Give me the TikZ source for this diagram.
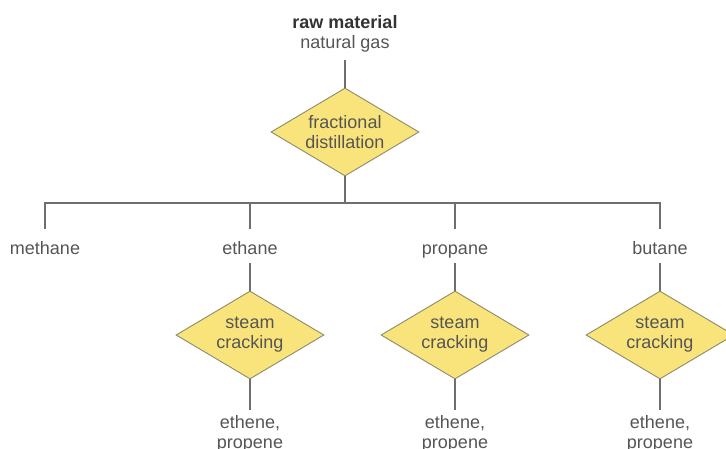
\documentclass[tikz,border=0pt]{standalone}
\usepackage{fontspec}
\setmainfont{Liberation Sans}
\usetikzlibrary{shapes.geometric}
\definecolor{txt}{HTML}{555555}
\definecolor{txtdark}{HTML}{333333}
\definecolor{ln}{HTML}{6E6E6E}
\definecolor{dfill}{HTML}{F9E47C}
\definecolor{dline}{HTML}{8C8A6A}
\begin{document}
\begin{tikzpicture}[x=1pt,y=-1pt,
  lbl/.style={font=\fontsize{18}{20}\selectfont, text=txt, align=center, inner sep=0pt},
  item/.style={lbl, text height=13pt, text depth=4pt, anchor=base},
  dia/.style={diamond, draw=dline, fill=dfill, line width=0.9pt, minimum width=148pt, minimum height=88pt, inner sep=0pt, aspect=1.68, lbl},
  conn/.style={draw=ln, line width=1.1pt}]
\useasboundingbox (0,0) rectangle (726,448);

\node[lbl, anchor=base, text=txtdark] (raw) at (345,28.5) {\textbf{raw material}};
\node[lbl, anchor=base] (gas) at (345,48) {natural gas};
\node[dia] (fd) at (345,132) {fractional\\distillation};
\coordinate (bus) at (345,203);

\node[item] (methane) at (45,254) {methane};
\node[item] (ethane) at (250,254) {ethane};
\node[item] (propane) at (455,254) {propane};
\node[item] (butane) at (660,254) {butane};

\node[dia] (sc1) at (250,335) {steam\\cracking};
\node[dia] (sc2) at (455,335) {steam\\cracking};
\node[dia] (sc3) at (660,335) {steam\\cracking};

\node[lbl, anchor=north] (p1) at (250,415) {ethene,\\propene};
\node[lbl, anchor=north] (p2) at (455,415) {ethene,\\propene};
\node[lbl, anchor=north] (p3) at (660,415) {ethene,\\propene};

\draw[conn, shorten <=8pt] (gas.south) -- (fd.north);
\draw[conn] (fd.south) -- (bus);
\draw[conn, shorten >=12pt] (bus) -| (methane.north);
\draw[conn, shorten >=12pt] (bus) -| (butane.north);
\draw[conn, shorten >=12pt] (ethane.north |- bus) -- (ethane.north);
\draw[conn, shorten >=12pt] (propane.north |- bus) -- (propane.north);

\draw[conn, shorten <=5pt] (ethane.south) -- (sc1.north);
\draw[conn, shorten <=5pt] (propane.south) -- (sc2.north);
\draw[conn, shorten <=5pt] (butane.south) -- (sc3.north);

\draw[conn, shorten >=5pt] (sc1.south) -- (p1.north);
\draw[conn, shorten >=5pt] (sc2.south) -- (p2.north);
\draw[conn, shorten >=5pt] (sc3.south) -- (p3.north);
\end{tikzpicture}
\end{document}
